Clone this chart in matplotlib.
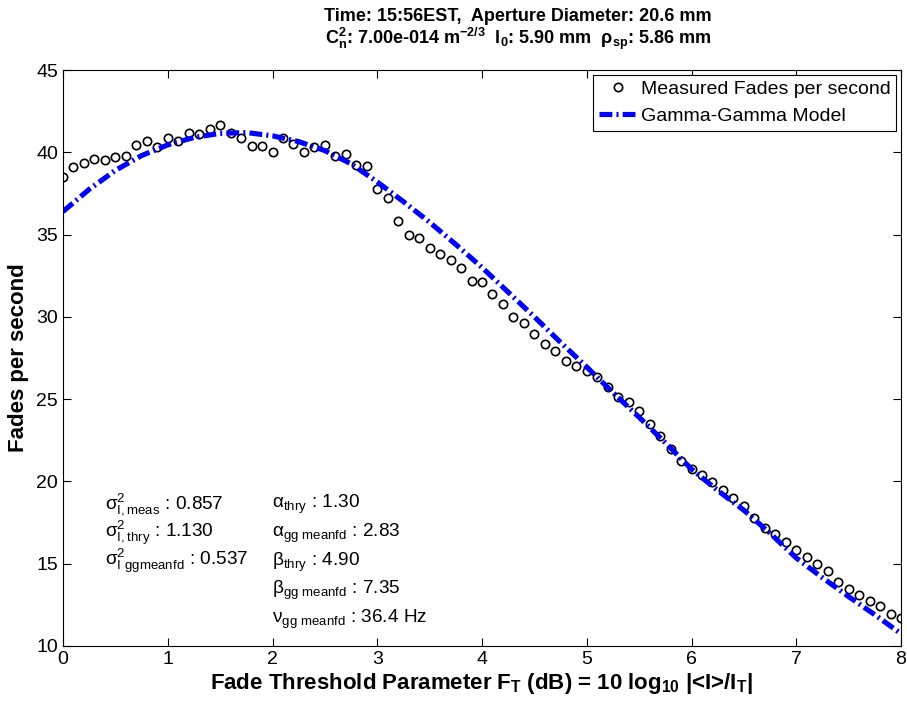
import numpy as np
import matplotlib
matplotlib.use("Agg")
import matplotlib.pyplot as plt

plt.rcParams['font.family'] = ['Liberation Sans', 'DejaVu Sans']
plt.rcParams['mathtext.fontset'] = 'custom'
plt.rcParams['mathtext.rm'] = 'Liberation Sans'
plt.rcParams['mathtext.it'] = 'Liberation Sans'
plt.rcParams['mathtext.bf'] = 'Liberation Sans:bold'
plt.rcParams['mathtext.default'] = 'regular'

# fade threshold grid (dB) and measured fade rate
ft_meas = np.linspace(0, 8, 81)
fades_meas = [
    38.48, 39.13, 39.33, 39.61, 39.55, 39.73, 39.75, 40.46, 40.67, 40.34,
    40.85, 40.67, 41.17, 41.10, 41.41, 41.66, 41.15, 40.87, 40.40, 40.40,
    40.02, 40.85, 40.50, 40.02, 40.30, 40.42, 39.80, 39.88, 39.23, 39.15,
    37.75, 37.20, 35.80, 34.95, 34.81, 34.20, 33.82, 33.43, 32.95, 32.20,
    32.12, 31.37, 30.80, 29.99, 29.61, 28.96, 28.35, 27.93, 27.32, 27.01,
    26.73, 26.36, 25.76, 25.15, 24.85, 24.30, 23.49, 22.78, 21.95, 21.22,
    20.77, 20.37, 19.98, 19.48, 18.99, 18.51, 17.80, 17.19, 16.81, 16.30,
    15.81, 15.41, 15.00, 14.56, 13.91, 13.44, 13.12, 12.73, 12.45, 11.96,
    11.72,
]

# gamma-gamma model curve
ft_model = np.linspace(0, 8, 33)
fades_model = [
    36.40, 37.75, 38.90, 39.80, 40.45, 40.90, 41.15, 41.20, 41.00, 40.65,
    40.10, 39.30, 38.20, 37.00, 35.75, 34.40, 33.00, 31.50, 30.00, 28.45,
    26.95, 25.40, 23.90, 22.35, 20.75, 19.45, 18.25, 16.85, 15.35, 14.15,
    13.00, 11.90, 10.75,
]

fig = plt.figure(figsize=(9.07, 7.02), dpi=100)
ax = fig.add_axes([63/907, 1 - 646/702, 838/907, 576/702])

ax.plot(ft_meas, fades_meas, 'o', mfc='none', mec='black', ms=6, mew=1.2,
        label='Measured Fades per second')
ax.plot(ft_model, fades_model, color=(0, 0, 1), lw=3.7,
        dashes=(2.5, 0.8, 0.4, 0.8), label='Gamma-Gamma Model')

ax.set_xlim(0, 8)
ax.set_ylim(10, 45)
ax.set_xticks(range(0, 9))
ax.set_yticks(range(10, 46, 5))
ax.tick_params(direction='in', top=True, right=True, length=6, labelsize=14)
for s in ax.spines.values():
    s.set_linewidth(0.8)

ax.set_xlabel(r'Fade Threshold Parameter F$_T$ (dB) = 10 log$_{10}$ |<I>/I$_T$|',
              fontsize=16, fontweight='bold', labelpad=2)
ax.set_ylabel('Fades per second', fontsize=16, fontweight='bold', labelpad=5)

fig.text(0.571, 0.976, 'Time: 15:56EST,  Aperture Diameter: 20.6 mm',
         ha='center', va='center', fontsize=13, fontweight='bold')
fig.text(0.571, 0.944,
         r'C$_n^2$: 7.00e-014 m$^{-2/3}$  l$_0$: 5.90 mm  $\rho_{sp}$: 5.86 mm',
         ha='center', va='center', fontsize=13, fontweight='bold')

leg = ax.legend(loc='upper right', fontsize=14, fancybox=False, framealpha=1,
                edgecolor='black', borderaxespad=0.25, handlelength=2.0,
                handletextpad=0.15, borderpad=0.3, labelspacing=0.45)
leg.get_frame().set_linewidth(0.8)

left_col = [r'$\sigma^2_{I,meas}$ : 0.857',
            r'$\sigma^2_{I,thry}$ : 1.130',
            r'$\sigma^2_{I\ ggmeanfd}$ : 0.537']
right_col = [r'$\alpha_{thry}$ : 1.30',
             r'$\alpha_{gg\ meanfd}$ : 2.83',
             r'$\beta_{thry}$ : 4.90',
             r'$\beta_{gg\ meanfd}$ : 7.35',
             r'$\nu_{gg\ meanfd}$ : 36.4 Hz']
for i, t in enumerate(left_col):
    ax.text(0.40, 18.6 - 1.72 * i, t, fontsize=13.7, va='center', ha='left')
for i, t in enumerate(right_col):
    ax.text(2.0, 18.6 - 1.75 * i, t, fontsize=13.7, va='center', ha='left')

fig.savefig('out.png', dpi=100)
